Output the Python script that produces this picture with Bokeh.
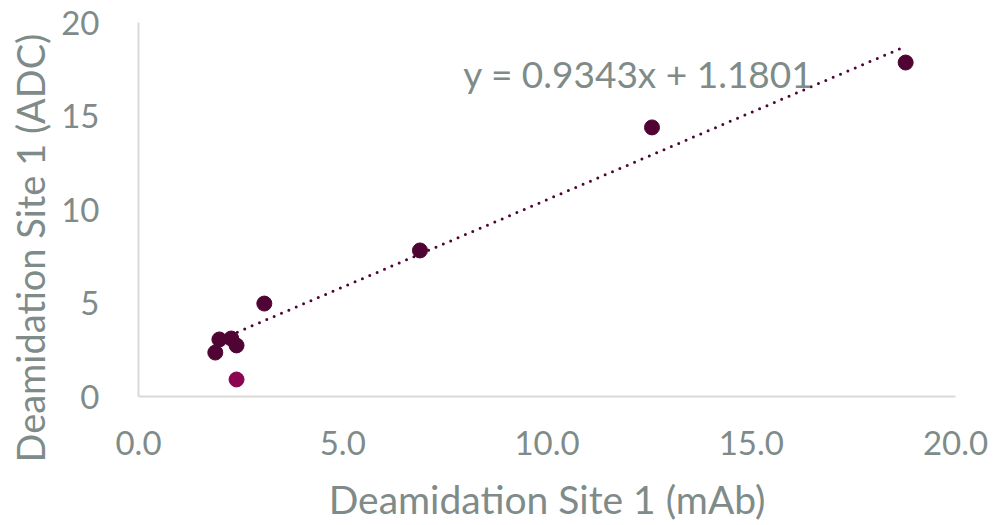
from bokeh.plotting import figure
from bokeh.models import Range1d, FixedTicker, NumeralTickFormatter, Label, Title
from bokeh.embed import file_html
from bokeh.resources import INLINE

# data
mab_dark = [1.88, 1.98, 2.27, 2.40, 3.08, 6.89, 12.57, 18.78]
adc_dark = [2.35, 3.05, 3.10, 2.73, 4.97, 7.81, 14.39, 17.86]
mab_pink = [2.40]
adc_pink = [0.91]
slope = 0.9343
intercept = 1.1801
x_ticks = [0, 5, 10, 15, 20]
y_ticks = [0, 5, 10, 15, 20]
x_title = "Deamidation Site 1 (mAb)"
y_title = "Deamidation Site 1 (ADC)"

FONT = "Lato"
GRAY = "#7F8B89"
DARK = "#4F0433"
PINK = "#8A0450"

p = figure(width=994, height=525, output_backend="svg", toolbar_location=None,
           x_range=Range1d(0, 20), y_range=Range1d(0, 20),
           min_border_left=137, min_border_right=39, min_border_top=22, min_border_bottom=129)
p.outline_line_color = None
p.grid.visible = False
p.background_fill_color = "white"
p.border_fill_color = "white"

for ax in (p.xaxis[0], p.yaxis[0]):
    ax.axis_line_color = "#D9D9D9"
    ax.axis_line_width = 2
    ax.major_tick_line_color = None
    ax.minor_tick_line_color = None
    ax.major_label_text_font = FONT
    ax.major_label_text_color = GRAY
    ax.major_label_text_font_size = "33px"
    ax.axis_label_text_font = FONT
    ax.axis_label_text_color = GRAY
    ax.axis_label_text_font_size = "39px"
    ax.axis_label_text_font_style = "normal"

p.xaxis.ticker = FixedTicker(ticks=x_ticks)
p.yaxis.ticker = FixedTicker(ticks=y_ticks)
p.xaxis.formatter = NumeralTickFormatter(format="0.0")
p.yaxis.formatter = NumeralTickFormatter(format="0")
p.xaxis.axis_label = x_title
p.xaxis.major_label_standoff = 28
p.yaxis.major_label_standoff = 33
p.xaxis.axis_label_standoff = 18

# y-axis title, placed off-centre (lower) as in the reference
yt = Title(text=y_title, align="left", offset=-66, standoff=10,
           vertical_align="middle",
           text_font=FONT, text_font_size="38px", text_color=GRAY,
           text_font_style="normal")
p.add_layout(yt, "left")

# trendline
x0, x1 = min(mab_dark), max(mab_dark)
p.line([x0, x1], [slope * x0 + intercept, slope * x1 + intercept],
       line_color=DARK, line_width=3, line_dash="0 8", line_cap="round")

p.scatter(mab_dark, adc_dark, size=15, fill_color=DARK, line_color=DARK)
p.scatter(mab_pink, adc_pink, size=15, fill_color=PINK, line_color=PINK)

eq = Label(x=7.95, y=17.27, text="y = %.4fx + %.4f" % (slope, intercept),
           text_font=FONT, text_font_size="37px", text_color=GRAY,
           text_baseline="alphabetic", text_align="left")
p.add_layout(eq)

open("out.html", "w").write(file_html(p, INLINE))
